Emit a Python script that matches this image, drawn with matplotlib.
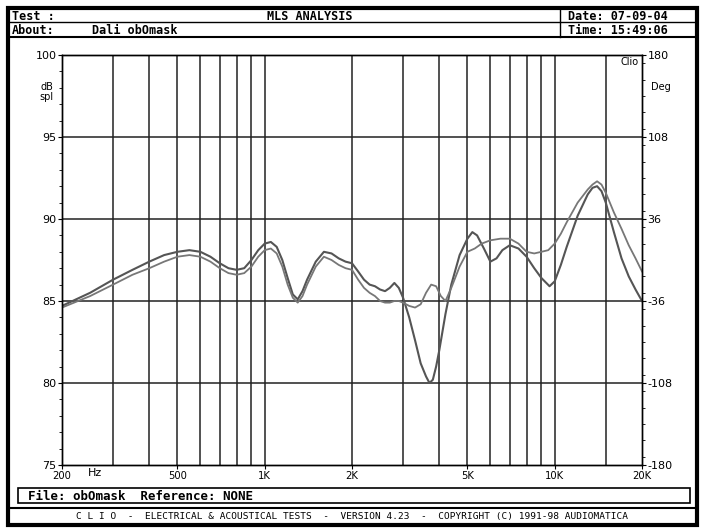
import numpy as np
import matplotlib
matplotlib.use("Agg")
import matplotlib.pyplot as plt
from matplotlib.patches import Rectangle
from matplotlib.lines import Line2D

freq_a = [200,250,300,350,400,450,500,550,600,650,700,750,800,850,900,950,1000,1050,1100,1150,1200,1250,1300,1350,1400,1500,1600,1700,1800,1900,2000,2100,2200,2300,2400,2500,2600,2700,2800,2900,3000,3150,3300,3450,3600,3700,3800,3900,4000,4200,4400,4700,5000,5200,5400,5700,6000,6300,6600,7000,7500,8000,8500,9000,9600,10000,10500,11000,12000,13000,13500,14000,14500,15000,16000,17000,18000,19000,20000]
db_a =   [84.7,85.5,86.3,86.9,87.4,87.8,88.0,88.1,88.0,87.7,87.3,87.0,86.9,87.0,87.5,88.1,88.5,88.6,88.3,87.5,86.4,85.4,85.1,85.6,86.3,87.4,88.0,87.9,87.6,87.4,87.3,86.8,86.3,86.0,85.9,85.7,85.6,85.8,86.1,85.8,85.2,84.0,82.6,81.2,80.4,80.0,80.2,81.0,82.0,84.2,86.0,87.8,88.8,89.2,89.0,88.2,87.4,87.6,88.1,88.4,88.2,87.7,87.0,86.4,85.9,86.2,87.2,88.3,90.2,91.5,91.9,92.0,91.7,91.0,89.2,87.6,86.5,85.7,85.0]
freq_b = [200,250,300,350,400,450,500,550,600,650,700,750,800,850,900,950,1000,1050,1100,1150,1200,1250,1300,1350,1400,1500,1600,1700,1800,1900,2000,2100,2200,2300,2400,2500,2600,2700,2800,2900,3000,3150,3300,3450,3600,3750,3900,4050,4200,4400,4700,5000,5300,5600,6000,6500,7000,7500,8000,8500,9000,9500,10000,10500,11000,12000,13000,13500,14000,14500,15000,16000,17000,18000,19000,20000]
db_b =   [84.6,85.3,86.0,86.6,87.0,87.4,87.7,87.8,87.7,87.4,87.0,86.7,86.6,86.7,87.1,87.7,88.1,88.2,87.9,87.1,86.0,85.2,84.9,85.3,86.0,87.1,87.7,87.5,87.2,87.0,86.9,86.3,85.8,85.5,85.3,85.0,84.9,84.9,85.0,85.0,84.9,84.7,84.6,84.8,85.5,86.0,85.9,85.3,85.0,85.8,87.1,88.0,88.2,88.5,88.7,88.8,88.8,88.5,88.0,87.9,88.0,88.1,88.5,89.1,89.8,91.0,91.8,92.1,92.3,92.1,91.6,90.4,89.4,88.4,87.6,86.8]
xticks = [200,500,1000,2000,5000,10000,20000]
xlabels = ["200","500","1K","2K","5K","10K","20K"]
grid_x = [300,400,500,600,700,800,900,1000,2000,3000,4000,5000,6000,7000,8000,9000,10000,15000]
yticks = [75,80,85,90,95,100]
deg_ticks = [-180,-108,-36,36,108,180]

W, H = 705, 532
fig = plt.figure(figsize=(W/100, H/100), dpi=100)
mono = "DejaVu Sans Mono"

def fx(px): return px / W
def fy(py): return 1 - py / H

ax = fig.add_axes([fx(62), fy(465), fx(642) - fx(62), fy(55) - fy(465)])
ax.set_xscale("log")
ax.set_xlim(200, 20000)
ax.set_ylim(75, 100)
for g in grid_x:
    ax.axvline(g, color="#222", lw=1.1)
for yv in [80, 85, 90, 95]:
    ax.axhline(yv, color="#222", lw=1.1)
ax.plot(freq_a, db_a, color="#555", lw=1.5)
ax.plot(freq_b, db_b, color="#777", lw=1.3)
ax.set_xticks(xticks)
ax.set_xticklabels(xlabels, fontsize=8, fontstretch="condensed")
ax.xaxis.set_minor_locator(matplotlib.ticker.NullLocator())
ax.set_yticks(yticks)
ax.set_yticklabels([str(v) for v in yticks], fontsize=8)
ax.yaxis.set_minor_locator(matplotlib.ticker.MultipleLocator(1))
ax.tick_params(axis="both", which="major", length=3, pad=1)
ax.tick_params(axis="y", which="minor", length=2)
ax.text(0.045, -0.0075, "Hz", transform=ax.transAxes, fontsize=8, va="top")
ax.text(-0.015, 0.935, "dB\nspl", transform=ax.transAxes, fontsize=7, ha="right", va="top", linespacing=1.0)
ax.text(0.995, 0.995, "Clio", transform=ax.transAxes, fontsize=7, ha="right", va="top")
ax2 = ax.twinx()
ax2.set_ylim(-180, 180)
ax2.set_yticks(deg_ticks)
ax2.set_yticklabels([str(v) for v in deg_ticks], fontsize=8)
ax2.yaxis.set_minor_locator(matplotlib.ticker.MultipleLocator(14.4))
ax2.tick_params(axis="y", which="major", length=3, pad=1)
ax2.tick_params(axis="y", which="minor", length=2)
ax2.text(1.015, 0.935, "Deg", transform=ax.transAxes, fontsize=7, ha="left", va="top")
for a in (ax, ax2):
    for s in a.spines.values():
        s.set_linewidth(1.0)

def rect(x0, y0, x1, y1, lw):
    fig.add_artist(Rectangle((fx(x0), fy(y1)), fx(x1) - fx(x0), fy(y0) - fy(y1), fill=False, lw=lw, ec="black", transform=fig.transFigure))
def hline(x0, x1, y, lw=1.0):
    fig.add_artist(Line2D([fx(x0), fx(x1)], [fy(y), fy(y)], lw=lw, color="black", transform=fig.transFigure))
def vline(x, y0, y1, lw=1.0):
    fig.add_artist(Line2D([fx(x), fx(x)], [fy(y0), fy(y1)], lw=lw, color="black", transform=fig.transFigure))

rect(8, 8, 697, 525, 3)
hline(8, 697, 22); hline(8, 697, 37, 1.5)
vline(560, 8, 37)
rect(18, 488, 690, 503, 1.2)
hline(8, 697, 508, 1.5)

def t(x, y, s, ha="left", size=8.5, w="bold"):
    fig.text(fx(x), fy(y), s, ha=ha, va="center", fontsize=size, fontfamily=mono, fontweight=w)
t(12, 16, "Test :")
t(310, 16, "MLS ANALYSIS", ha="center")
t(568, 16, "Date: 07-09-04")
t(12, 30, "About:")
t(92, 30, "Dali obOmask")
t(568, 30, "Time: 15:49:06")
t(28, 496, "File: obOmask  Reference: NONE", size=9)
t(352, 516, "C L I O  -  ELECTRICAL & ACOUSTICAL TESTS  -  VERSION 4.23  -  COPYRIGHT (C) 1991-98 AUDIOMATICA", ha="center", size=6.8, w="normal")

fig.savefig("out.png", dpi=100)
